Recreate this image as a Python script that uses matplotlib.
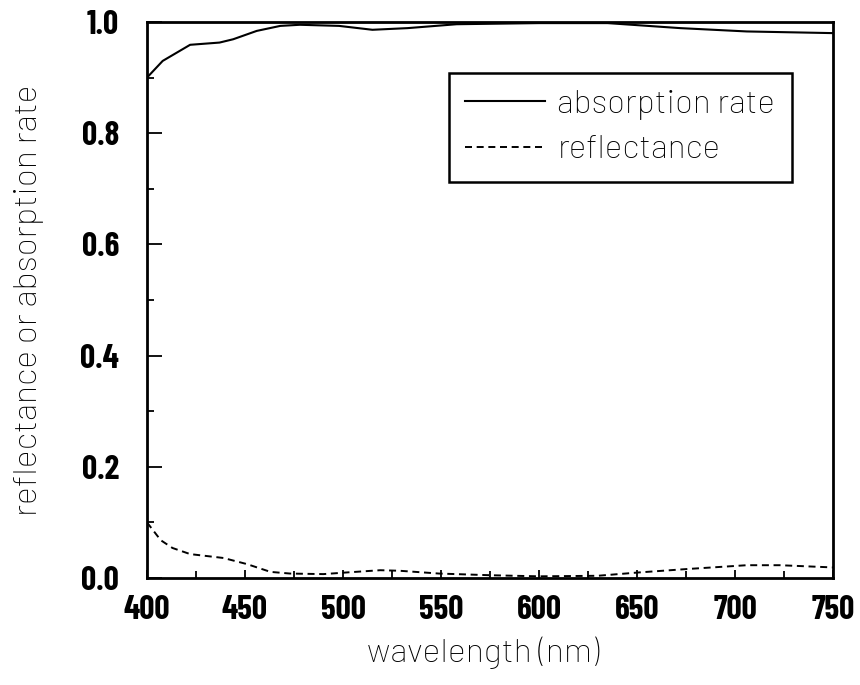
import matplotlib
matplotlib.use("Agg")
import matplotlib.pyplot as plt
import matplotlib as mpl
from matplotlib.ticker import MultipleLocator

TICK_FONT = ["Barlow Condensed", "DejaVu Sans"]
LABEL_FONT = ["Barlow", "DejaVu Sans"]

# absorption rate curve
wl_abs = [400, 408, 422, 437, 444, 456, 468, 478, 498, 515, 533, 558, 600, 635, 672, 706, 750]
absorption = [0.900, 0.930, 0.959, 0.963, 0.969, 0.984, 0.993, 0.995, 0.993, 0.986, 0.989,
              0.996, 0.998, 0.998, 0.989, 0.983, 0.980]

# reflectance curve
wl_ref = [400, 407, 413, 422, 439, 451, 463, 473, 490, 502, 519, 529, 549, 575, 600, 630,
          651, 675, 706, 723, 750]
reflectance = [0.100, 0.068, 0.054, 0.043, 0.036, 0.025, 0.011, 0.008, 0.007, 0.010, 0.014,
               0.013, 0.008, 0.005, 0.003, 0.004, 0.010, 0.016, 0.023, 0.023, 0.019]

fig = plt.figure(figsize=(8.6, 6.85), dpi=100)
ax = fig.add_axes([147 / 860, 1 - 578 / 685, 686 / 860, 556 / 685])

ax.plot(wl_abs, absorption, "-", color="black", lw=1.5, label="absorption rate")
ax.plot(wl_ref, reflectance, "--", color="black", lw=1.4, dashes=(3.6, 2.4), label="reflectance")

ax.set_xlim(400, 750)
ax.set_ylim(0, 1.0)
ax.xaxis.set_major_locator(MultipleLocator(50))
ax.xaxis.set_minor_locator(MultipleLocator(25))
ax.yaxis.set_major_locator(MultipleLocator(0.2))
ax.yaxis.set_minor_locator(MultipleLocator(0.1))
ax.yaxis.set_major_formatter(mpl.ticker.FormatStrFormatter("%.1f"))
ax.tick_params(axis="x", which="major", direction="in", length=6, width=1.3, pad=12)
ax.tick_params(axis="x", which="minor", direction="in", length=5, width=1.3)
ax.tick_params(axis="y", which="major", direction="in", length=11, width=1.3, pad=20)
ax.tick_params(axis="y", which="minor", direction="in", length=5, width=1.3)
for lab in ax.get_xticklabels() + ax.get_yticklabels():
    lab.set_fontsize(24)
    lab.set_fontweight("bold")
    lab.set_family(TICK_FONT)
for sp in ax.spines.values():
    sp.set_linewidth(2.0)

ax.set_xlabel("wavelength (nm)", fontsize=24.5, family=LABEL_FONT, fontweight="light")
ax.set_ylabel("reflectance or absorption rate", fontsize=24.5, family=LABEL_FONT,
              fontweight="light")
ax.xaxis.set_label_coords(0.49, -0.106)
ax.yaxis.set_label_coords(-0.15, 0.5)

leg = ax.legend(loc="upper right", bbox_to_anchor=(0.940, 0.908),
                prop={"family": LABEL_FONT, "size": 24, "weight": "light"},
                frameon=True, fancybox=False, edgecolor="black", framealpha=1,
                handlelength=2.4, handletextpad=0.36, borderpad=0.5, labelspacing=0.45,
                borderaxespad=0)
leg.get_frame().set_linewidth(1.8)

fig.savefig("out.png", dpi=100)
